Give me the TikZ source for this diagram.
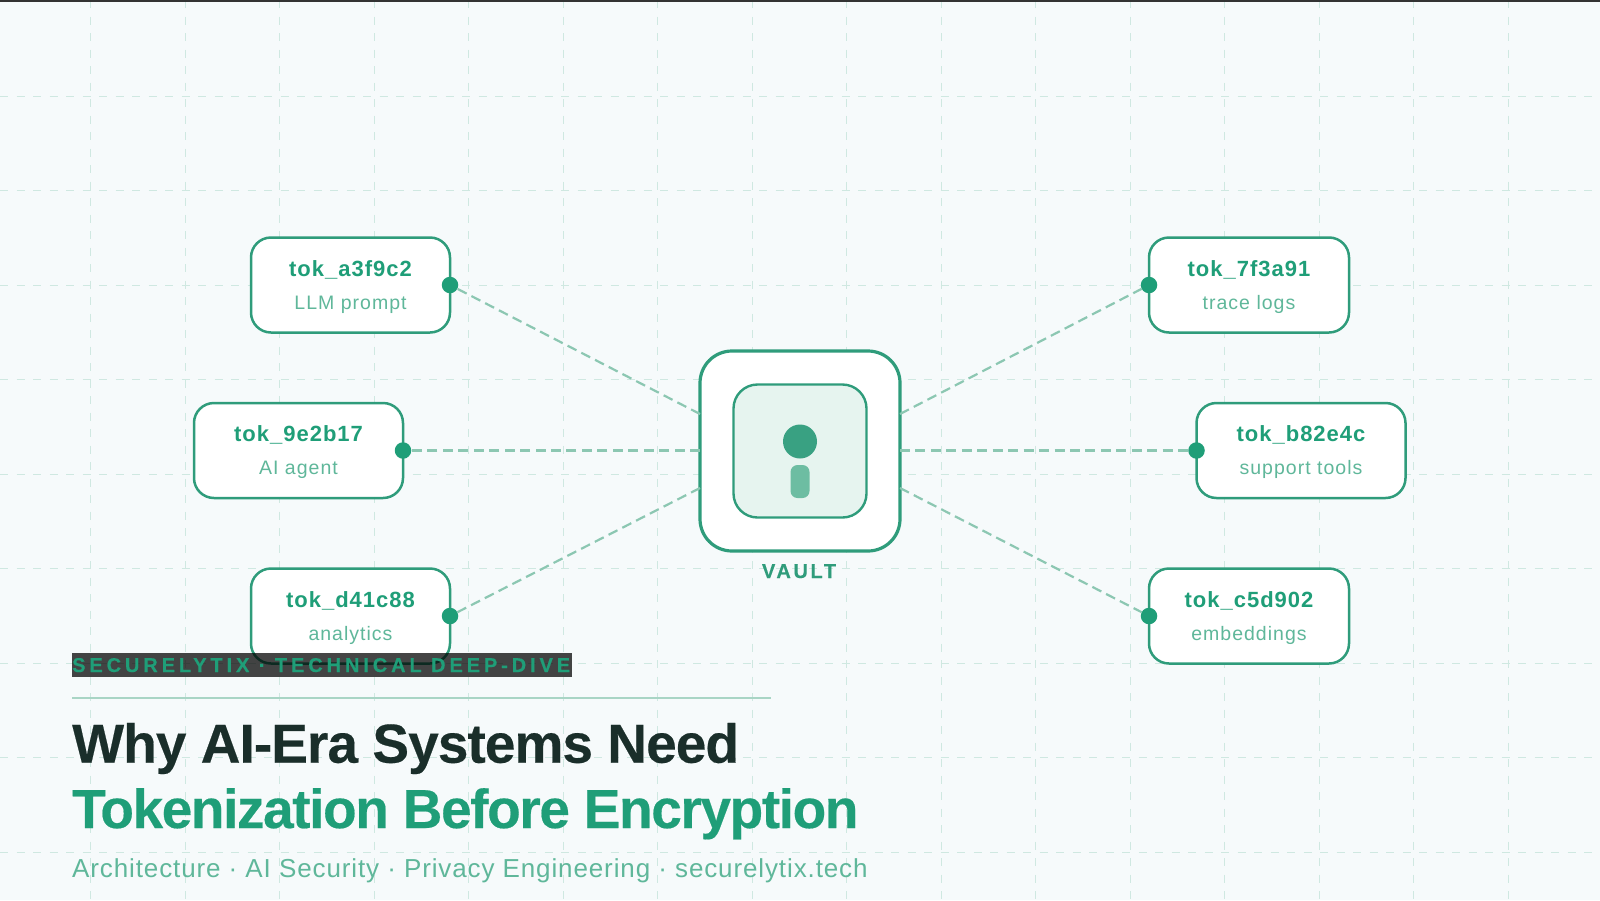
\documentclass[tikz,border=0pt]{standalone}
\usepackage{fontspec}
\setmainfont{Liberation Sans}
\newfontfamily\titlefonta[LetterSpace=-1.7,FakeBold=0.35]{Liberation Sans Bold}
\newfontfamily\titlefontb[LetterSpace=-2.55,FakeBold=0.35]{Liberation Sans Bold}
\newfontfamily\stripfont[LetterSpace=19.5,FakeBold=0.2]{Liberation Sans Bold}
\newfontfamily\vaultfont[LetterSpace=13,FakeBold=0.2]{Liberation Sans Bold}
\newfontfamily\tokfont[LetterSpace=4.6]{Liberation Sans Bold}
\newfontfamily\subfont[LetterSpace=5.2]{Liberation Sans}
\newfontfamily\tagfont[LetterSpace=3.4]{Liberation Sans}
\definecolor{bgc}{HTML}{F6FAFB}
\definecolor{gridc}{HTML}{CFE8E1}
\definecolor{mainc}{HTML}{1F9E78}
\definecolor{edgec}{HTML}{2F9C7B}
\definecolor{subc}{HTML}{5FB79A}
\definecolor{linkc}{HTML}{8CC7B2}
\definecolor{inkc}{HTML}{1A2E2A}
\definecolor{innerc}{HTML}{E6F4EF}
\tikzset{
  gridline/.style={gridc,line width=1pt,dash pattern=on 8pt off 8.5pt},
  link/.style={linkc,line width=2.2pt,dash pattern=on 10pt off 5.45pt},
  tokbox/.style={draw=edgec,fill=white,line width=2.5pt,rounded corners=20pt,minimum height=95pt,inner sep=0pt,outer sep=0pt},
  dotn/.style={circle,fill=mainc,minimum size=16.5pt,inner sep=0pt,outer sep=0pt},
  toktext/.style={anchor=base,text=mainc,font=\tokfont\fontsize{22}{22}\selectfont,inner sep=0pt},
  subtext/.style={anchor=base,text=subc,font=\subfont\fontsize{19.5}{19.5}\selectfont,inner sep=0pt},
  titletext/.style={anchor=base west,inner sep=0pt},
}
\newcommand{\tokitem}[7]{% name, cx, cy, w, tok, sub, dot anchor
  \node[tokbox,minimum width=#4pt] (#1) at (#2,#3) {};
  \node[toktext] (#1t) at (#2,#3+-9) {#5};
  \node[subtext] (#1s) at (#2,#3+24.4) {#6};
  \node[dotn] (#1d) at (#1.#7) {};
}
\begin{document}
\begin{tikzpicture}[x=1pt,y=-1pt]
\useasboundingbox (0,0) rectangle (1600,900);
\fill[bgc] (0,0) rectangle (1600,900);
\foreach \k in {0,...,16} \draw[gridline] ({90.7+94.5*\k},0) -- ({90.7+94.5*\k},900);
\foreach \k in {0,...,8} \draw[gridline] (0,{96+94.5*\k}) -- (1600,{96+94.5*\k});
\fill[black!80] (0,0) rectangle (1600,2);

\node[draw=edgec,fill=white,line width=3.2pt,rounded corners=32pt,minimum width=200pt,minimum height=200pt,inner sep=0pt,outer sep=0pt] (vault) at (800,451) {};
\coordinate (vne) at (900,414);
\coordinate (vnw) at (700,414);
\coordinate (ve) at (900,450.5);
\coordinate (vw) at (700,450.5);
\coordinate (vse) at (900,488);
\coordinate (vsw) at (700,488);

\tokitem{a}{350.5}{285}{199}{tok\_a3f9c2}{LLM prompt}{east}
\tokitem{b}{298.5}{450.5}{209}{tok\_9e2b17}{AI agent}{east}
\tokitem{c}{350.5}{616}{199}{tok\_d41c88}{analytics}{east}
\tokitem{d}{1249}{285}{200}{tok\_7f3a91}{trace logs}{west}
\tokitem{e}{1301}{450.5}{209}{tok\_b82e4c}{support tools}{west}
\tokitem{f}{1249}{616}{200}{tok\_c5d902}{embeddings}{west}

\draw[link] (vnw) -- (ad);
\draw[link,line width=2.5pt] (vw) -- (bd);
\draw[link] (vsw) -- (cd);
\draw[link] (vne) -- (dd);
\draw[link,line width=2.5pt] (ve) -- (ed);
\draw[link] (vse) -- (fd);

\node[draw=edgec,fill=innerc,line width=2.4pt,rounded corners=24pt,minimum width=133pt,minimum height=133pt,inner sep=0pt,outer sep=0pt] (inner) at (800,451) {};
\node[circle,fill=edgec!95!white,minimum size=34pt,inner sep=0pt] (keyhead) at (800,441.5) {};
\node[rounded corners=7pt,fill=subc!90!innerc,minimum width=19pt,minimum height=33pt,inner sep=0pt] (keybar) at (800,481.5) {};
\node[anchor=base,inner sep=0pt,text=edgec,font=\vaultfont\fontsize{20}{20}\selectfont] (vlabel) at (799,578) {VAULT};

\fill[black,opacity=.73] (72,652.7) rectangle (572,676.7);
\node[anchor=base west,inner sep=0pt,text=mainc,font=\stripfont\fontsize{20}{20}\selectfont] (kicker) at (72,672) {SECURELYTIX · TECHNICAL DEEP-DIVE};
\draw[linkc!75!white,line width=2.4pt] (72,697.7) -- (771,697.7);
\node[titletext,text=inkc,font=\titlefonta\fontsize{55}{55}\selectfont] (t1) at (72,762.7) {Why AI-Era Systems Need};
\node[titletext,text=mainc,font=\titlefontb\fontsize{55}{55}\selectfont] (t2) at (72,828) {Tokenization Before Encryption};
\node[anchor=base west,inner sep=0pt,text=subc,font=\tagfont\fontsize{26}{26}\selectfont] (tag) at (72,877) {Architecture · AI Security · Privacy Engineering · securelytix.tech};
\end{tikzpicture}
\end{document}
